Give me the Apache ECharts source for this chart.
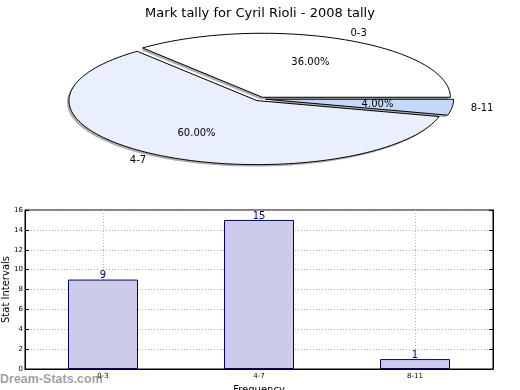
<!DOCTYPE html>
<html>
<head>
<meta charset="utf-8">
<script src="https://cdn.jsdelivr.net/npm/echarts@6/dist/echarts.min.js"></script>
<style>html,body{margin:0;padding:0;background:#fff;}#c{width:520px;height:390px;}</style>
</head>
<body>
<div id="c"></div>
<script>
const chartTitle = 'Mark tally for Cyril Rioli - 2008 tally';
const categories = ['0-3', '4-7', '8-11'];
const values = [9, 15, 1];
const yAxisName = 'Stat Intervals';
const xAxisName = 'Frequency';
const watermark = 'Dream-Stats.com';

const FONT = 'DejaVu Sans';
const sliceColors = ['#ffffff', '#e9effc', '#c5d8fa'];
const EXPLODE = 0.03;
const total = values.reduce((a, b) => a + b, 0);

function renderSlice(params, api) {
  const i = params.dataIndex;
  const v = api.value(1);
  let before = 0;
  for (let k = 0; k < i; k++) before += values[k];
  const a1 = before / total * 2 * Math.PI;
  const a2 = (before + v) / total * 2 * Math.PI;
  const mid = (a1 + a2) / 2;
  const ex = EXPLODE * Math.cos(mid), ey = EXPLODE * Math.sin(mid);
  const pts = [api.coord([ex, ey])];
  const n = Math.max(4, Math.ceil((a2 - a1) / (Math.PI / 120)));
  for (let j = 0; j <= n; j++) {
    const t = a1 + (a2 - a1) * j / n;
    pts.push(api.coord([ex + Math.cos(t), ey + Math.sin(t)]));
  }
  const shadowPts = pts.map(p => [p[0] - 2, p[1] + 2]);
  const pctPos = api.coord([ex + 0.6 * Math.cos(mid), ey + 0.6 * Math.sin(mid)]);
  const labPos = api.coord([ex + 1.1 * Math.cos(mid), ey + 1.1 * Math.sin(mid)]);
  return {
    type: 'group',
    children: [
      { type: 'polygon', z2: 0, shape: { points: shadowPts }, style: { fill: 'rgba(77,77,77,0.45)', stroke: null } },
      { type: 'polygon', z2: 10, shape: { points: pts }, style: { fill: sliceColors[i], stroke: '#000', lineWidth: 1 } },
      { type: 'text', z2: 20, x: pctPos[0], y: pctPos[1], style: { text: (v / total * 100).toFixed(2) + '%', fill: '#000', font: '10px "' + FONT + '"', align: 'center', verticalAlign: 'middle' } },
      { type: 'text', z2: 20, x: labPos[0], y: labPos[1], style: { text: categories[i], fill: '#000', font: '10px "' + FONT + '"', align: Math.cos(mid) >= 0 ? 'left' : 'right', verticalAlign: 'middle' } }
    ]
  };
}

const chart = echarts.init(document.getElementById('c'), null, { renderer: 'canvas' });
chart.setOption({
  animation: false,
  backgroundColor: '#fff',
  textStyle: { fontFamily: FONT },
  title: {
    text: chartTitle, left: 'center', top: 2,
    textStyle: { fontFamily: FONT, fontSize: 13, fontWeight: 'normal', color: '#000' }
  },
  grid: [
    { left: 72, top: 35, width: 376, height: 128, show: false, containLabel: false, outerBoundsMode: 'none' },
    { left: 25, top: 210, width: 468, height: 159, show: true, borderColor: '#000', borderWidth: 1, containLabel: false, outerBoundsMode: 'none' }
  ],
  xAxis: [
    { gridIndex: 0, type: 'value', min: -1, max: 1, show: false },
    {
      gridIndex: 1, type: 'category', data: categories,
      name: xAxisName, nameLocation: 'middle', nameGap: 16, nameMoveOverlap: false,
      nameTextStyle: { fontFamily: FONT, fontSize: 10, color: '#000' },
      axisLine: { lineStyle: { color: '#000', width: 1 } },
      axisTick: { inside: true, alignWithLabel: true, length: 4, lineStyle: { color: '#000' } },
      axisLabel: { fontFamily: FONT, fontSize: 7, color: '#000', margin: 4 },
      splitLine: { show: true, alignWithLabel: true, lineStyle: { color: '#b0b0b0', type: [1, 2], width: 1 } }
    }
  ],
  yAxis: [
    { gridIndex: 0, type: 'value', min: -1, max: 1, show: false },
    {
      gridIndex: 1, type: 'value', min: 0, max: 16, interval: 2,
      name: yAxisName, nameLocation: 'middle', nameGap: 14, nameMoveOverlap: false,
      nameTextStyle: { fontFamily: FONT, fontSize: 10, color: '#000' },
      axisLine: { show: true, lineStyle: { color: '#000', width: 1 } },
      axisTick: { show: true, inside: true, length: 4, lineStyle: { color: '#000' } },
      axisLabel: { fontFamily: FONT, fontSize: 7, color: '#000', margin: 2 },
      splitLine: { show: true, lineStyle: { color: '#b0b0b0', type: [1, 2], width: 1 } }
    },
    {
      gridIndex: 1, type: 'value', min: 0, max: 16, interval: 2, position: 'right',
      axisLine: { show: true, lineStyle: { color: '#000', width: 1 } },
      axisTick: { show: true, inside: true, length: 4, lineStyle: { color: '#000' } },
      axisLabel: { show: false },
      splitLine: { show: false }
    }
  ],
  series: [
    {
      type: 'custom', xAxisIndex: 0, yAxisIndex: 0, clip: false,
      data: values.map((v, i) => [i, v]),
      renderItem: renderSlice
    },
    {
      type: 'bar', xAxisIndex: 1, yAxisIndex: 1, barWidth: 70,
      data: values,
      itemStyle: { color: '#ccccea', borderColor: '#000080', borderWidth: 1 },
      label: { show: true, position: 'top', distance: -1, color: '#000080', fontFamily: FONT, fontSize: 10 }
    }
  ],
  graphic: [
    { type: 'text', left: 0, top: 373, style: { text: watermark, fill: '#a0a0a0', font: 'bold 12.5px "Liberation Sans"' } }
  ]
});
</script>
</body>
</html>
